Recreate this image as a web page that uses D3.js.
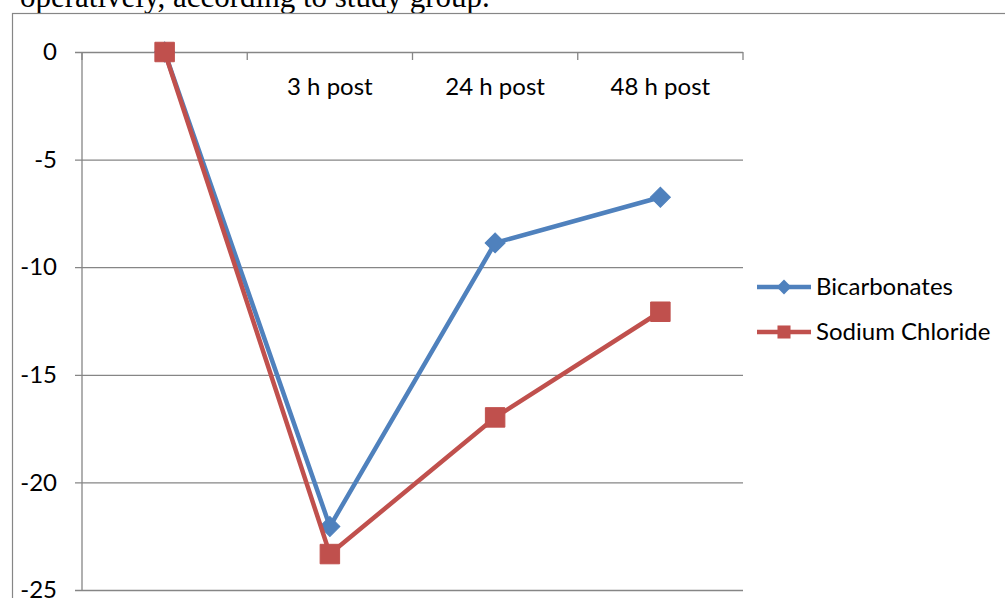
<!DOCTYPE html>
<html>
<head>
<meta charset="utf-8">
<script src="https://cdn.jsdelivr.net/npm/d3@7"></script>
<style>
  html, body { margin: 0; padding: 0; background: #fff; }
  svg { display: block; }
</style>
</head>
<body>
<svg id="chart" width="1005" height="598"></svg>
<script>
// Time points (the baseline column has no printed label)
const categories = ["", "3 h post", "24 h post", "48 h post"];
const seriesNames = ["Bicarbonates", "Sodium Chloride"];
const bicarbonates = [0, -22.05, -8.87, -6.75];
const sodiumChloride = [0, -23.33, -16.98, -12.07];
const yTicks = [0, -5, -10, -15, -20, -25];
const captionText = "operatively, according to study group.";

const seriesValues = [bicarbonates, sodiumChloride];
const colors = ["#4F81BD", "#C0504D"];
// Diamond = square turned 45 degrees
const markerRotation = [45, 0];
const markerArea = [200, 380];
const legendMarkerArea = [110, 170];

const svg = d3.select("#chart");
const labelFont = "Lato, 'Open Sans', sans-serif";
const gridColor = "#868686";

// Caption line running off the top of the frame
svg.append("text")
  .attr("x", 20).attr("y", 6.5)
  .attr("font-family", "'Liberation Serif', 'Times New Roman', serif")
  .attr("font-size", 31)
  .attr("fill", "#000")
  .text(captionText);

// Chart frame
svg.append("rect")
  .attr("x", 12.5).attr("y", 13.5)
  .attr("width", 1100).attr("height", 700)
  .attr("fill", "none")
  .attr("stroke", gridColor).attr("stroke-width", 1.2);

const plot = { left: 82, right: 743, top: 52, bottom: 590 };

const x = d3.scaleBand()
  .domain(d3.range(categories.length))
  .range([plot.left, plot.right]);

const y = d3.scaleLinear()
  .domain([-25, 0])
  .range([plot.bottom, plot.top]);

// Horizontal gridlines with their left tick stubs and labels
const yAxis = d3.axisLeft(y)
  .tickValues(yTicks)
  .tickSize(plot.right - plot.left + 7)
  .tickPadding(17)
  .tickFormat(d3.format("d"));

const gy = svg.append("g")
  .attr("transform", `translate(${plot.right},0)`)
  .call(yAxis);
gy.select(".domain").remove();
gy.selectAll(".tick line")
  .attr("stroke", gridColor).attr("stroke-width", 1.3);
gy.selectAll(".tick text")
  .attr("x", -(plot.right - plot.left) - 25)
  .attr("font-family", labelFont)
  .attr("font-size", 24)
  .attr("fill", "#000")
  .text(d => String(d));

// Vertical value axis line
svg.append("line")
  .attr("x1", plot.left).attr("x2", plot.left)
  .attr("y1", plot.top).attr("y2", plot.bottom)
  .attr("stroke", gridColor).attr("stroke-width", 1.3);

// Category axis sits on the zero line; ticks at band boundaries
const boundaries = d3.range(categories.length + 1)
  .map(i => plot.left + i * x.bandwidth());
svg.append("g").selectAll("line")
  .data(boundaries)
  .join("line")
  .attr("x1", d => d).attr("x2", d => d)
  .attr("y1", y(0)).attr("y2", y(0) + 8)
  .attr("stroke", gridColor).attr("stroke-width", 1.3);

svg.append("g").selectAll("text")
  .data(categories)
  .join("text")
  .attr("x", (d, i) => x(i) + x.bandwidth() / 2)
  .attr("y", y(0) + 43)
  .attr("text-anchor", "middle")
  .attr("font-family", labelFont)
  .attr("font-size", 24)
  .attr("fill", "#000")
  .text(d => d);

// Series lines and markers
const line = d3.line()
  .x((d, i) => x(i) + x.bandwidth() / 2)
  .y(d => y(d));

seriesValues.forEach((vals, s) => {
  const g = svg.append("g");
  g.append("path")
    .datum(vals)
    .attr("d", line)
    .attr("fill", "none")
    .attr("stroke", colors[s])
    .attr("stroke-width", 4.5)
    .attr("stroke-linejoin", "round");
  g.selectAll("path.marker")
    .data(vals)
    .join("path")
    .attr("class", "marker")
    .attr("transform", (d, i) =>
      `translate(${x(i) + x.bandwidth() / 2},${y(d)}) rotate(${markerRotation[s]})`)
    .attr("d", d3.symbol().type(d3.symbolSquare).size(markerArea[s]))
    .attr("fill", colors[s])
    .attr("stroke", colors[s])
    .attr("stroke-width", 1);
});

// Legend
const legend = svg.append("g");
seriesNames.forEach((name, s) => {
  const ly = 287 + s * 45;
  legend.append("line")
    .attr("x1", 757).attr("x2", 811)
    .attr("y1", ly).attr("y2", ly)
    .attr("stroke", colors[s]).attr("stroke-width", 4.5);
  legend.append("path")
    .attr("transform", `translate(784,${ly}) rotate(${markerRotation[s]})`)
    .attr("d", d3.symbol().type(d3.symbolSquare).size(legendMarkerArea[s]))
    .attr("fill", colors[s]);
  legend.append("text")
    .attr("x", 816).attr("y", ly)
    .attr("dy", "0.35em")
    .attr("font-family", labelFont)
    .attr("font-size", 24)
    .attr("fill", "#000")
    .text(name);
});
</script>
</body>
</html>
